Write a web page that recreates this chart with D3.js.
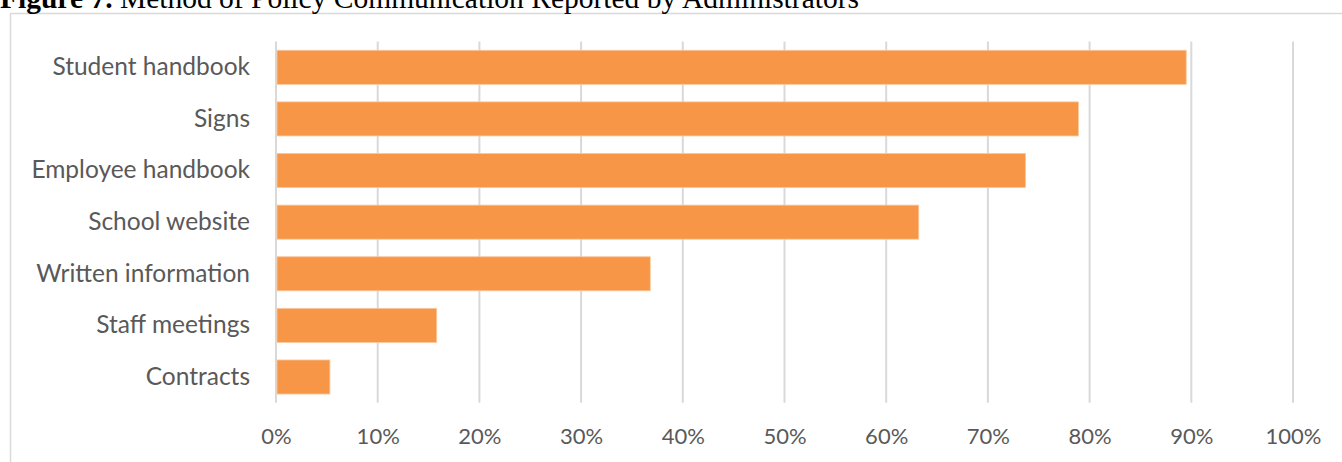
<!DOCTYPE html>
<html>
<head>
<meta charset="utf-8">
<script src="https://cdn.jsdelivr.net/npm/d3@7"></script>
<style>
  html, body { margin: 0; padding: 0; background: #fff; overflow: hidden; }
  svg { display: block; }
</style>
</head>
<body>
<svg id="chart" width="1342" height="462"></svg>
<script>
const categories = ["Student handbook", "Signs", "Employee handbook", "School website", "Written information", "Staff meetings", "Contracts"];
const values = [89.5, 78.9, 73.7, 63.2, 36.8, 15.8, 5.3];
const tickValues = [0, 10, 20, 30, 40, 50, 60, 70, 80, 90, 100];
const tickLabels = ["0%", "10%", "20%", "30%", "40%", "50%", "60%", "70%", "80%", "90%", "100%"];
const titleBold = "Figure 7.";
const titleRest = " Method of Policy Communication Reported by Administrators";

const svg = d3.select("#chart");
const labelFont = "Lato, 'Open Sans', sans-serif";
const textColor = "#595959";

// chart frame
svg.append("rect")
  .attr("x", 10.5).attr("y", 13.5)
  .attr("width", 1400).attr("height", 500)
  .attr("fill", "none").attr("stroke", "#d9d9d9").attr("stroke-width", 1.5);

// title (cropped at top as in the source)
const title = svg.append("text")
  .attr("x", 0).attr("y", 8)
  .attr("font-family", "'Liberation Serif', 'Times New Roman', serif")
  .attr("font-size", 29.5)
  .attr("fill", "#000");
title.append("tspan").attr("font-weight", "bold").text(titleBold);
title.append("tspan").text(titleRest);

const x = d3.scaleLinear().domain([0, 100]).range([276, 1293]);
const y = d3.scaleBand().domain(categories).range([41.5, 402.8]).paddingInner(0.34).paddingOuter(0.17);

// gridlines
svg.append("g").selectAll("line").data(tickValues).join("line")
  .attr("x1", d => x(d)).attr("x2", d => x(d))
  .attr("y1", 41.5).attr("y2", 402.8)
  .attr("stroke", "#d9d9d9").attr("stroke-width", 2);

// bars
svg.append("g").selectAll("rect").data(categories).join("rect")
  .attr("x", x(0) + 1)
  .attr("y", d => y(d))
  .attr("width", (d, i) => x(values[i]) - x(0) - 1)
  .attr("height", y.bandwidth())
  .attr("fill", "#F79646")
  .attr("stroke", "#fbc79d").attr("stroke-width", 0.8);

// x axis tick labels
const xAxis = d3.axisBottom(x).tickValues(tickValues)
  .tickFormat((d, i) => tickLabels[i]).tickSize(0).tickPadding(0);
const gx = svg.append("g").attr("transform", "translate(0,428)").call(xAxis);
gx.select(".domain").remove();
gx.selectAll("text")
  .attr("font-family", labelFont).attr("font-size", 22)
  .attr("fill", textColor).attr("dy", "0.71em");

// y axis category labels
const yAxis = d3.axisLeft(y).tickSize(0).tickPadding(26);
const gy = svg.append("g").attr("transform", `translate(${x(0)},0)`).call(yAxis);
gy.select(".domain").remove();
gy.selectAll("text")
  .attr("font-family", labelFont).attr("font-size", 24.5)
  .attr("fill", textColor);
</script>
</body>
</html>
